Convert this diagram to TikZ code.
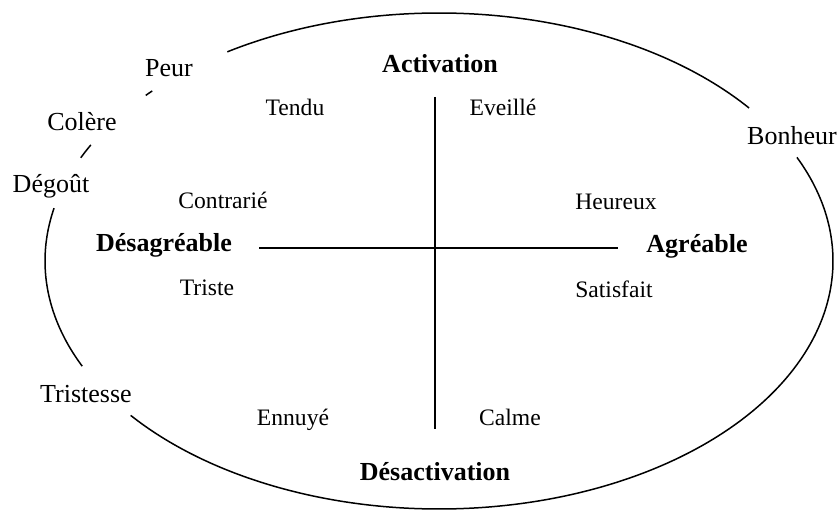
\documentclass[tikz,border=0pt]{standalone}
\usepackage{fontspec}
\setmainfont{Liberation Serif}
\begin{document}
\begin{tikzpicture}[x=1pt,y=-1pt,
  outerlbl/.style={font=\fontsize{26}{31}\selectfont, anchor=base, inner sep=0pt},
  innerlbl/.style={font=\fontsize{23.6}{28}\selectfont, anchor=base, inner sep=0pt},
  axislbl/.style={font=\fontsize{26}{31}\selectfont\bfseries, anchor=base, inner sep=0pt},
  curve/.style={line width=1.5pt},
  axisline/.style={line width=1.6pt}]
\useasboundingbox (0,0) rectangle (839,511);

% ellipse segments (center 439,261; radii 394,248)
\draw[curve] plot[domain=237.5:321.9, samples=120] ({439+394*cos(\x)},{261+248*sin(\x)});
\draw[curve] plot[domain=-24.7:141.5, samples=200] ({439+394*cos(\x)},{261+248*sin(\x)});
\draw[curve] plot[domain=154.9:192.3, samples=60] ({439+394*cos(\x)},{261+248*sin(\x)});
\draw[curve] plot[domain=204.6:207.9, samples=10] ({439+394*cos(\x)},{261+248*sin(\x)});
\draw[curve] plot[domain=221.9:223.3, samples=6] ({439+394*cos(\x)},{261+248*sin(\x)});

% axes
\coordinate (htop) at (435,97);
\coordinate (hbot) at (435,429);
\coordinate (hleft) at (259,248);
\coordinate (hright) at (618,248);
\draw[axisline] (htop) -- (hbot);
\draw[axisline] (hleft) -- (hright);

% outer emotion labels
\node[outerlbl] (peur) at (169,77) {Peur};
\node[outerlbl] (colere) at (82,131) {Colère};
\node[outerlbl] (degout) at (51,192) {Dégoût};
\node[outerlbl] (bonheur) at (792,144) {Bonheur};
\node[outerlbl] (tristesse) at (86,402) {Tristesse};

% axis labels
\node[axislbl] (activation) at (440,73) {Activation};
\node[axislbl] (desactivation) at (435,480) {Désactivation};
\node[axislbl] (desagreable) at (164,251) {Désagréable};
\node[axislbl] (agreable) at (697,252) {Agréable};

% inner labels
\node[innerlbl] (tendu) at (295,116) {Tendu};
\node[innerlbl] (eveille) at (503,116) {Eveillé};
\node[innerlbl] (contrarie) at (223,208) {Contrarié};
\node[innerlbl] (heureux) at (616,209) {Heureux};
\node[innerlbl] (triste) at (207,295) {Triste};
\node[innerlbl] (satisfait) at (614,297) {Satisfait};
\node[innerlbl] (ennuye) at (293,425) {Ennuyé};
\node[innerlbl] (calme) at (510,425) {Calme};
\end{tikzpicture}
\end{document}
